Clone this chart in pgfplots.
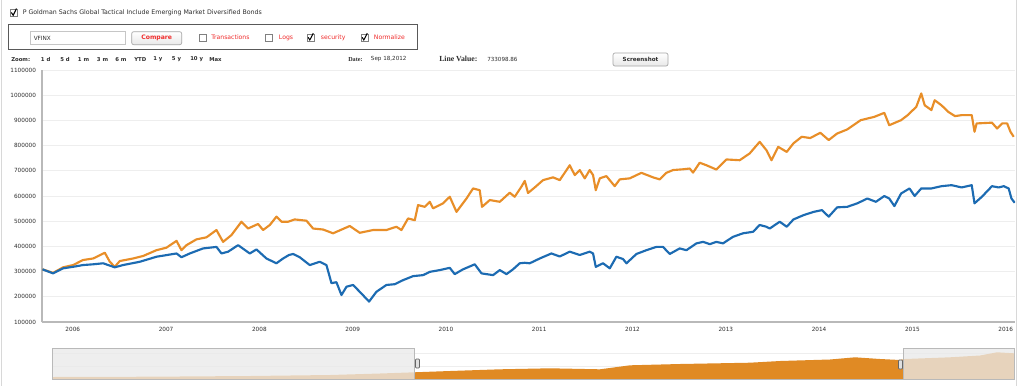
\documentclass[border=0pt]{standalone}
\usepackage{fontspec}
\setmainfont{DejaVu Sans}
\newfontfamily\serifb{Liberation Serif}
\usepackage{pgfplots}
\pgfplotsset{compat=1.18}
\definecolor{orangeL}{RGB}{232,142,40}
\definecolor{blueL}{RGB}{28,107,178}
\definecolor{navO}{RGB}{224,138,36}
\definecolor{redT}{RGB}{240,45,45}
\definecolor{txt}{RGB}{45,45,45}
\definecolor{gridc}{RGB}{238,238,238}
\definecolor{axc}{RGB}{185,185,185}
\definecolor{maskc}{RGB}{234,234,234}

\pgfplotstableread{
year value
2005.675 309000
2005.789 295000
2005.896 317000
2006.003 326000
2006.110 346000
2006.218 352000
2006.343 375000
2006.397 339000
2006.450 319000
2006.504 342000
2006.646 352000
2006.754 362000
2006.897 385000
2007.004 395000
2007.112 422000
2007.165 385000
2007.219 405000
2007.326 428000
2007.433 436000
2007.540 465000
2007.611 418000
2007.701 445000
2007.808 498000
2007.879 471000
2007.986 489000
2008.040 465000
2008.112 485000
2008.183 518000
2008.237 498000
2008.308 498000
2008.379 507000
2008.505 502000
2008.576 471000
2008.683 467000
2008.790 452000
2008.969 481000
2009.076 454000
2009.219 465000
2009.362 465000
2009.469 478000
2009.523 465000
2009.594 511000
2009.666 504000
2009.701 564000
2009.773 557000
2009.826 577000
2009.862 551000
2009.969 571000
2010.041 597000
2010.113 537000
2010.220 590000
2010.291 630000
2010.362 623000
2010.387 557000
2010.470 584000
2010.577 577000
2010.684 613000
2010.737 597000
2010.809 637000
2010.845 660000
2010.880 612000
2010.952 634000
2011.041 663000
2011.148 674000
2011.220 663000
2011.327 722000
2011.381 683000
2011.434 703000
2011.488 670000
2011.541 703000
2011.577 683000
2011.606 623000
2011.649 670000
2011.720 679000
2011.809 639000
2011.863 666000
2011.970 670000
2012.095 692000
2012.220 674000
2012.292 666000
2012.363 692000
2012.434 703000
2012.541 706000
2012.613 709000
2012.649 693000
2012.720 732000
2012.792 722000
2012.899 705000
2013.007 745000
2013.149 742000
2013.256 769000
2013.363 815000
2013.435 782000
2013.490 742000
2013.562 795000
2013.653 775000
2013.725 809000
2013.814 835000
2013.905 830000
2014.013 851000
2014.103 822000
2014.193 848000
2014.301 864000
2014.446 901000
2014.591 914000
2014.699 930000
2014.752 881000
2014.879 901000
2014.950 921000
2015.042 954000
2015.095 1007000
2015.132 960000
2015.204 941000
2015.239 980000
2015.312 960000
2015.384 934000
2015.457 917000
2015.529 921000
2015.636 921000
2015.666 855000
2015.689 888000
2015.853 891000
2015.908 868000
2015.962 888000
2016.016 888000
2016.051 855000
2016.086 835000
}\orangedata

\pgfplotstableread{
year value
2005.675 309000
2005.789 293000
2005.896 313000
2006.003 319000
2006.110 326000
2006.218 329000
2006.325 333000
2006.450 317000
2006.539 326000
2006.718 339000
2006.897 359000
2007.112 372000
2007.165 357000
2007.254 372000
2007.397 392000
2007.540 398000
2007.594 372000
2007.665 379000
2007.772 405000
2007.897 372000
2007.969 388000
2008.076 352000
2008.183 333000
2008.254 352000
2008.318 366000
2008.361 370000
2008.433 357000
2008.540 326000
2008.647 339000
2008.719 326000
2008.773 254000
2008.826 258000
2008.880 207000
2008.934 240000
2009.004 247000
2009.076 220000
2009.176 181000
2009.255 220000
2009.362 247000
2009.451 250000
2009.540 266000
2009.647 282000
2009.755 286000
2009.826 299000
2009.934 306000
2010.041 315000
2010.094 290000
2010.183 309000
2010.309 329000
2010.381 293000
2010.505 286000
2010.577 306000
2010.649 290000
2010.719 309000
2010.791 333000
2010.845 335000
2010.898 333000
2011.005 352000
2011.131 372000
2011.220 360000
2011.327 379000
2011.434 366000
2011.541 379000
2011.577 372000
2011.606 319000
2011.684 333000
2011.756 313000
2011.827 359000
2011.898 350000
2011.935 333000
2012.042 370000
2012.149 385000
2012.256 398000
2012.327 398000
2012.399 370000
2012.506 392000
2012.578 385000
2012.685 412000
2012.756 418000
2012.828 409000
2012.899 418000
2012.970 412000
2013.077 438000
2013.184 452000
2013.292 458000
2013.363 485000
2013.435 478000
2013.471 471000
2013.578 498000
2013.653 478000
2013.725 507000
2013.833 524000
2013.941 537000
2014.031 544000
2014.103 518000
2014.193 555000
2014.301 557000
2014.410 571000
2014.517 590000
2014.609 577000
2014.699 600000
2014.752 590000
2014.807 560000
2014.879 610000
2014.969 630000
2015.024 600000
2015.095 630000
2015.204 630000
2015.312 639000
2015.420 643000
2015.529 634000
2015.636 643000
2015.666 571000
2015.745 597000
2015.853 639000
2015.925 634000
2015.979 639000
2016.032 630000
2016.062 590000
2016.097 573000
}\bluedata

\pgfplotstableread{
pos height
52 2
150 2.3
250 3
330 4
380 5.5
414 6.7
450 8
500 9.7
550 10.7
600 9.7
630 13.7
680 15
750 16.3
780 18
830 19.5
855 21.7
880 20
900 19
905 20
950 21.7
980 23.5
997 26.7
1014 25.7
}\navdata

\begin{document}
\begin{tikzpicture}[x=0.75pt,y=-0.75pt]
\useasboundingbox (0,0) rectangle (1024,386);
\fill[white] (0,0) rectangle (1024,386);
\draw[gridc!80!gray, line width=0.75pt] (1.5,0)--(1.5,386);
\draw[gridc!80!gray, line width=0.75pt] (1016.5,0)--(1016.5,386);
\coordinate (mainSW) at (42,322);
\coordinate (navSW) at (52,379);

% --- header
\draw[gray, fill=white, line width=0.5pt] (10,9.3) rectangle (17.3,16.7);
\draw[black, line width=0.8pt] (11.3,12.5)--(13.2,15.3)--(16.5,8.5);
\node[anchor=west, inner sep=0pt, text=txt, font=\fontsize{4.7}{5}\selectfont] at (22.5,13) {P Goldman Sachs Global Tactical Include Emerging Market Diversified Bonds};

\draw[gray!70!black, line width=0.75pt] (8.5,24) rectangle (417.5,49);
\draw[gray!45, fill=white, line width=0.5pt] (30,31.7) rectangle (125.7,44.3);
\node[anchor=west, inner sep=0pt, text=txt, font=\fontsize{4.3}{5}\selectfont] at (33.5,38) {VFINX};
\draw[gray!70, line width=0.5pt, rounded corners=1.5pt, top color=white, bottom color=gray!18] (131.7,31.7) rectangle (181.7,44.7);
\node[inner sep=0pt, text=redT, font=\bfseries\fontsize{4.6}{5}\selectfont] at (156.7,38.2) {Compare};

\draw[gray, fill=white, line width=0.5pt] (199,34) rectangle (206,41);
\node[anchor=west, inner sep=0pt, text=redT, font=\fontsize{4.6}{5}\selectfont] at (211,37.5) {Transactions};
\draw[gray, fill=white, line width=0.5pt] (265.7,34) rectangle (272.7,41);
\node[anchor=west, inner sep=0pt, text=redT, font=\fontsize{4.6}{5}\selectfont] at (278.7,37.5) {Logs};
\draw[gray, fill=white, line width=0.5pt] (307,34) rectangle (314,41);
\draw[black, line width=0.75pt] (308.2,37.3)--(309.8,40)--(313.3,33.2);
\node[anchor=west, inner sep=0pt, text=redT, font=\fontsize{4.6}{5}\selectfont] at (320.7,37.5) {security};
\draw[gray, fill=white, line width=0.5pt] (361,34) rectangle (368,41);
\draw[black, line width=0.75pt] (362.2,37.3)--(363.8,40)--(367.3,33.2);
\node[anchor=west, inner sep=0pt, text=redT, font=\fontsize{4.6}{5}\selectfont] at (373.7,37.5) {Normalize};

\tikzset{zl/.style={anchor=west, inner sep=0pt, text=txt, font=\bfseries\fontsize{4}{5}\selectfont}}
\node[zl] at (11,59.5) {Zoom:};
\node[zl] at (40.7,59.5) {1 d};
\node[zl] at (60,59.5) {5 d};
\node[zl] at (77.7,59.5) {1 m};
\node[zl] at (96.7,59.5) {3 m};
\node[zl] at (115,59.5) {6 m};
\node[zl] at (134,59.5) {YTD};
\node[zl] at (153,59.5) {1 y};
\node[zl] at (171.7,59.5) {5 y};
\node[zl] at (190,59.5) {10 y};
\node[zl] at (209,59.5) {Max};
\node[anchor=west, inner sep=0pt, text=txt, font=\serifb\bfseries\fontsize{4.6}{5}\selectfont] at (348,59.3) {Date:};
\node[anchor=west, inner sep=0pt, text=txt, font=\fontsize{4.2}{5}\selectfont] at (370.7,59.5) {Sep 18,2012};
\node[anchor=west, inner sep=0pt, text=txt, font=\serifb\bfseries\fontsize{5.8}{6}\selectfont] at (439,59) {Line Value:};
\node[anchor=west, inner sep=0pt, text=txt, font=\fontsize{4.2}{5}\selectfont] at (487,59.5) {733098.86};
\draw[gray!70, line width=0.5pt, rounded corners=1.5pt, top color=white, bottom color=gray!18] (613,53) rectangle (668,66);
\node[inner sep=0pt, text=txt, font=\bfseries\fontsize{4.2}{5}\selectfont] at (640.5,59.5) {Screenshot};

% --- main chart
\begin{axis}[at={(mainSW)}, anchor=south west, scale only axis,
  width=729.75pt, height=189pt,
  xmin=2005.67, xmax=2016.1, ymin=100000, ymax=1100000,
  scaled x ticks=false, scaled y ticks=false,
  axis x line*=bottom, axis y line*=left,
  axis line style={axc, line width=0.9pt, -},
  xtick={2006,2007,2008,2009,2010,2011,2012,2013,2014,2015,2016},
  xticklabels={2006,2007,2008,2009,2010,2011,2012,2013,2014,2015,2016},
  ytick={100000,200000,300000,400000,500000,600000,700000,800000,900000,1000000,1100000},
  yticklabels={100000,200000,300000,400000,500000,600000,700000,800000,900000,1000000,1100000},
  major tick length=0pt,
  ymajorgrids, grid style={gridc, line width=0.6pt},
  tick label style={font=\fontsize{4.3}{5}\selectfont, text=txt},
  yticklabel style={xshift=-1pt},
  xticklabel style={yshift=-0.5pt},
  every axis plot/.append style={line join=round},
]
\addplot[orangeL, line width=1.6pt] table[x=year, y=value] {\orangedata};
\addplot[blueL, line width=1.6pt] table[x=year, y=value] {\bluedata};
\end{axis}

% --- navigator
\begin{axis}[at={(navSW)}, anchor=south west, scale only axis,
  width=721.5pt, height=23.25pt,
  xmin=52, xmax=1014, ymin=0, ymax=31,
  axis lines=none, ticks=none, clip=false]
\draw[gridc, line width=0.6pt] (axis cs:52,26) -- (axis cs:1014,26);
\draw[gridc, line width=0.6pt] (axis cs:52,13) -- (axis cs:1014,13);
\addplot[fill=navO, draw=none] table[x=pos, y=height] {\navdata} \closedcycle;
\fill[maskc, fill opacity=0.77] (axis cs:52,0) rectangle (axis cs:414,31);
\fill[maskc, fill opacity=0.77] (axis cs:903,0) rectangle (axis cs:1014,31);
\draw[axc, line width=0.6pt] (axis cs:52,0) rectangle (axis cs:414,31);
\draw[axc, line width=0.6pt] (axis cs:903,0) rectangle (axis cs:1014,31);
\draw[axc, line width=0.6pt] (axis cs:414,0) -- (axis cs:903,0);
\draw[gray!80!black, fill=gray!25, line width=0.5pt, rounded corners=0.6pt] (axis cs:415.5,11) rectangle (axis cs:419.5,20);
\draw[gray!80!black, fill=gray!25, line width=0.5pt, rounded corners=0.6pt] (axis cs:898.5,10) rectangle (axis cs:902.5,19);
\end{axis}
\end{tikzpicture}
\end{document}
